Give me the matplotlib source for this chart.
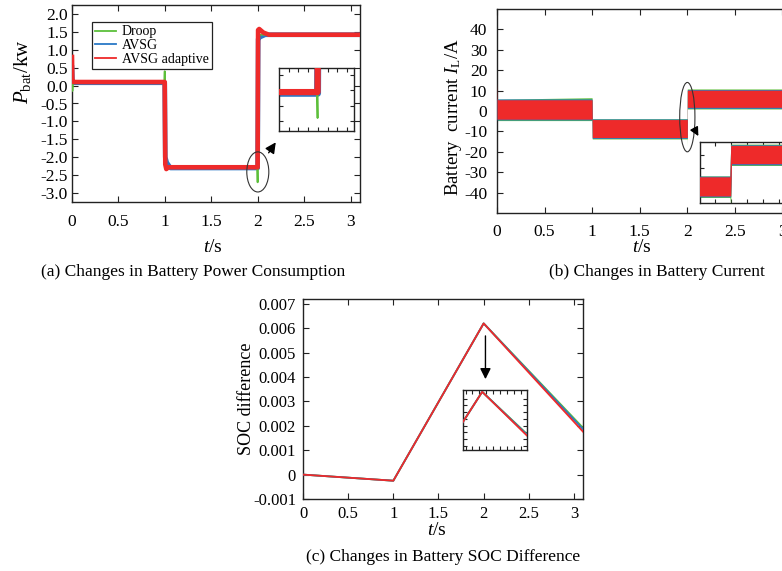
import matplotlib
matplotlib.use("Agg")
import matplotlib.pyplot as plt
from matplotlib.patches import Ellipse
import numpy as np

plt.rcParams['font.family'] = ['Liberation Serif', 'DejaVu Serif']
plt.rcParams['mathtext.fontset'] = 'custom'
plt.rcParams['mathtext.rm'] = 'Liberation Serif'
plt.rcParams['mathtext.it'] = 'Liberation Serif:italic'

# ---------------- data ----------------
series_names = ["Droop", "AVSG", "AVSG adaptive"]
colors = ["#5cbf3a", "#2a78c6", "#ee2a2a"]

# (a) battery power (kW)
t_droop_p = [0, 0.004, 0.012, 0.995, 0.998, 1.002, 1.02, 1.995, 1.998, 2.002, 2.02, 3.1]
p_droop = [0.1, -0.15, 0.1, 0.1, 0.4, -2.25, -2.28, -2.28, -2.7, 1.40, 1.42, 1.42]
t_avsg_p = [0, 0.005, 0.02, 0.998, 1.004, 1.02, 1.06, 1.998, 2.004, 2.02, 2.08, 3.1]
p_avsg = [0.5, 0.1, 0.08, 0.08, -2.0, -2.15, -2.3, -2.3, 1.3, 1.35, 1.42, 1.42]
t_adapt_p = [0, 0.004, 0.015, 0.998, 1.004, 1.015, 1.04, 1.998, 2.003, 2.015, 2.06, 2.12, 3.1]
p_adapt = [0.8, 0.15, 0.1, 0.1, -2.2, -2.33, -2.28, -2.28, 1.55, 1.58, 1.48, 1.42, 1.42]

# (b) battery current ripple envelopes (A)
t_band = [0, 0.003, 0.01, 0.999, 1.001, 1.999, 2.0, 2.001, 3.1]
droop_lo = [-4.7, -4.7, -4.7, -4.7, -13.7, -13.7, -17, 1.0, 1.0]
droop_hi = [5.8, 5.8, 5.8, 6.5, -3.8, -3.8, 10.8, 10.8, 10.8]
avsg_lo = [-4.4, -4.4, -4.4, -4.4, -13.4, -13.4, -13.4, 1.3, 1.3]
avsg_hi = [5.9, 5.9, 5.9, 5.9, -3.9, -3.9, 10.5, 10.5, 10.5]
adapt_lo = [-4, -4, -4, -4, -13, -13, -13, 1.8, 1.8]
adapt_hi = [14, 6, 5.5, 5.5, -4.2, -4.2, 10.2, 10.2, 10.2]

# (c) SOC difference
t_soc = [0, 1, 2, 3.1]
soc_droop = [0, -0.00025, 0.0062, 0.00192]
soc_avsg = [0, -0.00025, 0.0062, 0.00186]
soc_adapt = [0, -0.00025, 0.0062, 0.00176]

x_ticks = [0, 0.5, 1, 1.5, 2, 2.5, 3]
x_ticklabels = ["0", "0.5", "1", "1.5", "2", "2.5", "3"]
a_yticks = [2.0, 1.5, 1.0, 0.5, 0.0, -0.5, -1.0, -1.5, -2.0, -2.5, -3.0]
a_yticklabels = ["2.0", "1.5", "1.0", "0.5", "0.0", "-0.5", "-1.0", "-1.5", "-2.0", "-2.5", "-3.0"]
b_yticks = [40, 30, 20, 10, 0, -10, -20, -30, -40]
b_yticklabels = ["40", "30", "20", "10", "0", "-10", "-20", "-30", "-40"]
c_yticks = [0.007, 0.006, 0.005, 0.004, 0.003, 0.002, 0.001, 0, -0.001]
c_yticklabels = ["0.007", "0.006", "0.005", "0.004", "0.003", "0.002", "0.001", "0", "-0.001"]

captions = ["(a) Changes in Battery Power Consumption",
            "(b) Changes in Battery Current",
            "(c) Changes in Battery SOC Difference"]

fig = plt.figure(figsize=(7.82, 5.71), dpi=100)
W, H = 782.0, 571.0

def rect(l, r, t, b):
    return [l / W, 1 - b / H, (r - l) / W, (b - t) / H]

def style(ax, fs=12, xpad=6, ypad=3, labels=True):
    for s in ax.spines.values():
        s.set_linewidth(1.0)
        s.set_color("#222222")
    ax.tick_params(direction="in", top=True, right=True, length=4, width=0.8,
                   color="#222222", labelsize=fs)
    ax.tick_params(axis="x", pad=xpad)
    ax.tick_params(axis="y", pad=ypad)
    if not labels:
        ax.tick_params(labelbottom=False, labelleft=False, length=3)

# ---------------- (a) ----------------
ax1 = fig.add_axes(rect(72, 360, 5, 202))
ax1.plot(t_droop_p, p_droop, color=colors[0], lw=1.3, label=series_names[0], zorder=3)
ax1.plot(t_avsg_p, p_avsg, color=colors[1], lw=3.4, label=series_names[1], zorder=2)
ax1.plot(t_adapt_p, p_adapt, color=colors[2], lw=3.3, label=series_names[2], zorder=4)
ax1.set_xlim(0, 3.1)
ax1.set_ylim(-3.25, 2.25)
ax1.set_xticks(x_ticks)
ax1.set_xticklabels(x_ticklabels)
ax1.set_yticks(a_yticks)
ax1.set_yticklabels(a_yticklabels)
style(ax1, fs=12.5, xpad=9, ypad=3)
ax1.set_ylabel(r"$P_{\mathrm{bat}}$/kw", fontsize=15)
ax1.yaxis.set_label_coords(-0.135, 0.66)
ax1.set_xlabel(r"$t$/s", fontsize=14)
ax1.xaxis.set_label_coords(0.49, -0.19)
leg = ax1.legend(loc="upper left", bbox_to_anchor=(0.069, 0.914), fontsize=10,
                 frameon=True, fancybox=False, edgecolor="#222222", framealpha=1,
                 labelspacing=0.05, handlelength=1.5, handletextpad=0.4,
                 borderpad=0.25, borderaxespad=0)
leg.get_frame().set_linewidth(0.9)
for h in leg.get_lines():
    h.set_linewidth(1.3)
ax1.add_patch(Ellipse((2.0, -2.41), 0.237, 1.12, fill=False, lw=0.8,
                      edgecolor="#333333", zorder=6))
ax1.annotate("", xy=(2.21, -1.52), xytext=(2.10, -1.94),
             arrowprops=dict(arrowstyle="-|>", color="black", lw=1.0,
                             mutation_scale=16), zorder=6)

ia = fig.add_axes(rect(279, 354, 68, 131))
ia.plot(t_droop_p, p_droop, color=colors[0], lw=1.3, zorder=3)
ia.plot(t_avsg_p, p_avsg, color=colors[1], lw=5, zorder=2)
ia.plot(t_adapt_p, p_adapt, color=colors[2], lw=4.5, zorder=4)
ia.set_xlim(1.8, 2.185)
ia.set_ylim(-2.91, -1.89)
ia.set_xticks(np.arange(1.85, 2.18, 0.05))
ia.set_yticks(np.arange(-2.75, -1.9, 0.25))
style(ia, labels=False)

# ---------------- (b) ----------------
ax2 = fig.add_axes(rect(497, 792, 9, 213))
ax2.fill_between(t_band, droop_lo, droop_hi, color=colors[0], lw=0, zorder=2)
ax2.fill_between(t_band, avsg_lo, avsg_hi, color=colors[1], lw=0, zorder=3)
ax2.fill_between(t_band, adapt_lo, adapt_hi, color=colors[2], lw=0, zorder=4)
ax2.set_xlim(0, 3.1)
ax2.set_ylim(-50, 50)
ax2.set_xticks(x_ticks)
ax2.set_xticklabels(x_ticklabels)
ax2.set_yticks(b_yticks)
ax2.set_yticklabels(b_yticklabels)
style(ax2, fs=12.5, xpad=8, ypad=7)
ax2.set_ylabel(r"Battery  current $I_{\mathrm{L}}$/A", fontsize=13.5)
ax2.yaxis.set_label_coords(-0.112, 0.47)
ax2.set_xlabel(r"$t$/s", fontsize=14)
ax2.xaxis.set_label_coords(0.49, -0.125)
ax2.add_patch(Ellipse((2.0, -3), 0.16, 34, fill=False, lw=0.8,
                      edgecolor="#333333", zorder=6))
ax2.annotate("", xy=(2.13, -13.5), xytext=(2.06, -7.5),
             arrowprops=dict(arrowstyle="-|>", color="black", lw=1.0,
                             mutation_scale=13), zorder=6)

ib = fig.add_axes(rect(700, 800, 142, 203))
ib.fill_between(t_band, droop_lo, droop_hi, color=colors[0], lw=0, zorder=2)
ib.fill_between(t_band, avsg_lo, avsg_hi, color=colors[1], lw=0, zorder=3)
ib.fill_between(t_band, adapt_lo, adapt_hi, color=colors[2], lw=0, zorder=4)
ib.set_xlim(1.961, 2.086)
ib.set_ylim(-16, 12)
ib.set_xticks(np.arange(1.98, 2.09, 0.02))
ib.set_yticks(np.arange(-12, 12, 6))
style(ib, labels=False)

# ---------------- (c) ----------------
ax3 = fig.add_axes(rect(303, 583, 299, 499))
ax3.plot(t_soc, soc_droop, color=colors[0], lw=1.3, zorder=2)
ax3.plot(t_soc, soc_avsg, color=colors[1], lw=1.3, zorder=3)
ax3.plot(t_soc, soc_adapt, color=colors[2], lw=1.3, zorder=4)
ax3.set_xlim(0, 3.1)
ax3.set_ylim(-0.001, 0.0072)
ax3.set_xticks(x_ticks)
ax3.set_xticklabels(x_ticklabels)
ax3.set_yticks(c_yticks)
ax3.set_yticklabels(c_yticklabels)
style(ax3, fs=12, xpad=5, ypad=5)
ax3.set_ylabel("SOC difference", fontsize=13)
ax3.yaxis.set_label_coords(-0.172, 0.5)
ax3.set_xlabel(r"$t$/s", fontsize=14)
ax3.xaxis.set_label_coords(0.48, -0.115)
ax3.annotate("", xy=(2.02, 0.0038), xytext=(2.02, 0.0058),
             arrowprops=dict(arrowstyle="-|>", color="black", lw=1.0,
                             mutation_scale=16), zorder=6)

ic = fig.add_axes(rect(463, 527, 390, 450))
ic.plot(t_soc, soc_droop, color=colors[0], lw=1.3, zorder=2)
ic.plot(t_soc, soc_avsg, color=colors[1], lw=1.3, zorder=3)
ic.plot(t_soc, soc_adapt, color=colors[2], lw=1.3, zorder=4)
ic.set_xlim(1.931, 2.161)
ic.set_ylim(0.005337, 0.006227)
ic.set_xticks(np.arange(1.94, 2.16, 0.025))
ic.set_yticks(np.arange(0.0054, 0.0062, 0.0001))
style(ic, labels=False)

# captions
fig.text(193 / W, 1 - 272 / H, captions[0], ha="center", va="center", fontsize=12.5)
fig.text(657 / W, 1 - 272 / H, captions[1], ha="center", va="center", fontsize=12.5)
fig.text(443 / W, 1 - 557 / H, captions[2], ha="center", va="center", fontsize=12.5)

fig.savefig("out.png", dpi=100)
